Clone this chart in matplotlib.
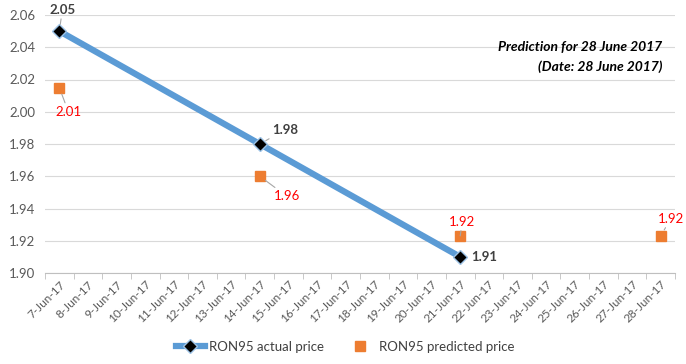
import matplotlib
matplotlib.use("Agg")
import matplotlib.pyplot as plt

plt.rcParams['font.family'] = ['Lato', 'DejaVu Sans']

dates = [f"{d}-Jun-17" for d in range(7, 29)]
actual_dates = ["7-Jun-17", "14-Jun-17", "21-Jun-17"]
actual_values = [2.05, 1.98, 1.91]
pred_dates = ["7-Jun-17", "14-Jun-17", "21-Jun-17", "28-Jun-17"]
pred_values = [2.015, 1.96, 1.923, 1.923]
pred_labels = ["2.01", "1.96", "1.92", "1.92"]
actual_labels = ["2.05", "1.98", "1.91"]
yticks = [1.90, 1.92, 1.94, 1.96, 1.98, 2.00, 2.02, 2.04, 2.06]

fig = plt.figure(figsize=(6.86, 3.64), dpi=100)
ax = fig.add_axes([45/686, 1-273/364, 630/686, 258/364])

ax_x = [dates.index(d) for d in actual_dates]
px = [dates.index(d) for d in pred_dates]

ax.plot(ax_x, actual_values, color='#5B9BD5', lw=4.5, zorder=3,
        marker='D', markersize=7.5, markerfacecolor='black',
        markeredgecolor='#9DC3E6', markeredgewidth=1.0,
        label='RON95 actual price')
ax.plot(px, pred_values, ls='none', marker='s', markersize=7.5,
        color='#ED7D31', markeredgecolor='#ED7D31', zorder=3,
        label='RON95 predicted price')

ax.set_xlim(-0.5, len(dates) - 0.5)
ax.set_ylim(1.90, 2.06)
ax.set_yticks(yticks)
ax.set_yticklabels([f"{v:.2f}" for v in yticks], fontsize=9.5, color='#595959')
ax.set_xticks(range(len(dates)))
ax.set_xticklabels(dates, rotation=45, ha='right', rotation_mode='anchor',
                   fontsize=8.5, color='#595959')
ax.tick_params(axis='x', length=0, pad=4)
ax.set_xticks([i - 0.5 for i in range(len(dates) + 1)], minor=True)
ax.tick_params(axis='x', which='minor', length=4, color='#BFBFBF')
ax.tick_params(axis='y', length=0, pad=7)
ax.grid(axis='y', color='#D9D9D9', lw=0.8)
ax.set_axisbelow(True)
for s in ['top', 'right', 'left']:
    ax.spines[s].set_visible(False)
ax.spines['bottom'].set_color('#BFBFBF')

lead = dict(arrowstyle='-', color='#A6A6A6', lw=0.8, shrinkA=0, shrinkB=5)

a_off = [(3, 21), (25, 14), (24, 0)]
for x, y, t, o in zip(ax_x, actual_values, actual_labels, a_off):
    ax.annotate(t, (x, y), xytext=o, textcoords='offset pixels', ha='center',
                va='center', fontsize=9.5, fontweight='bold', color='#404040',
                arrowprops=lead if o != (24, 0) else None)

p_off = [(9, -24), (27, -20), (2, 14), (10, 17)]
for x, y, t, o in zip(px, pred_values, pred_labels, p_off):
    ax.annotate(t, (x, y), xytext=o, textcoords='offset pixels', ha='center',
                va='center', fontsize=9.5, color='#FF0000',
                arrowprops=lead)

fig.text(662/686, 1-47/364, "Prediction for 28 June 2017", ha='right',
         va='center', fontsize=10, fontweight='bold', style='italic', color='black')
fig.text(662/686, 1-67/364, "(Date: 28 June 2017)", ha='right',
         va='center', fontsize=10, fontweight='bold', style='italic', color='black')

fig.legend(loc='center', bbox_to_anchor=(345/686, 1-347/364), ncol=2,
           frameon=False, fontsize=9.5, handlelength=2.2, handletextpad=0.3,
           columnspacing=1.7, labelcolor='#404040')

fig.savefig('out.png', dpi=100)
